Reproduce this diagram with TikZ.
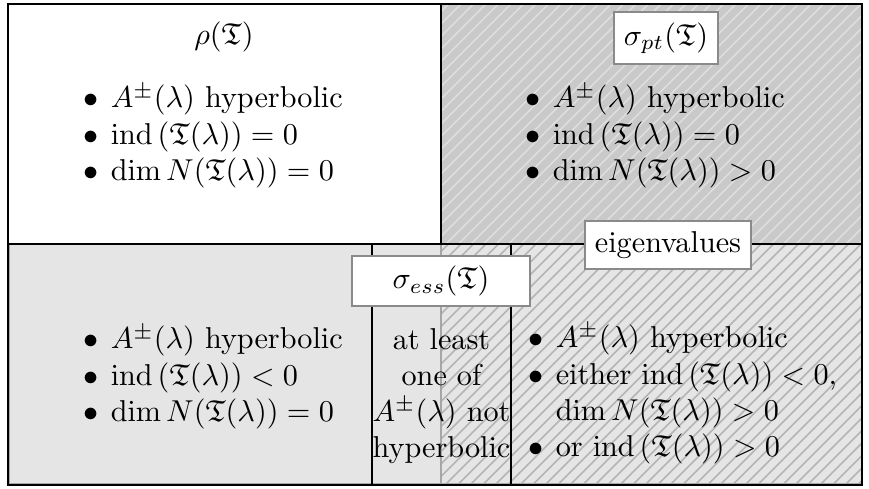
\documentclass[tikz,border=0pt]{standalone}
\usepackage{amsmath,amssymb}
\definecolor{topgray}{HTML}{C9C9C9}
\definecolor{botgray}{HTML}{E5E5E5}
\definecolor{tophatch}{HTML}{DEDEDE}
\definecolor{bothatch}{HTML}{B4B4B4}
\definecolor{labgray}{HTML}{8A8A8A}
\newcommand{\Tf}{\mathfrak{T}}
\newcommand{\ind}{\operatorname{ind}\,}
\newcommand{\bul}{$\bullet$}
\begin{document}
\begin{tikzpicture}[x=0.331pt,y=-0.331pt,
  lab/.style={draw=labgray, fill=white, line width=0.6pt, inner sep=0.3333em},
  lst/.style={inner sep=0pt, anchor=west},
  hatchline/.style={line width=0.55pt},
  frame/.style={line width=0.9pt},
  divider/.style={line width=0.65pt}]
\useasboundingbox (0,0) rectangle (869,489);
% fills
\fill[white] (8,4) rectangle (441,244);
\fill[topgray] (441,4) rectangle (862,244);
\fill[botgray] (8,244) rectangle (862,485);
% hatching
\begin{scope}
  \clip (441,4) rectangle (862,244);
  \foreach \x in {190,202.5,...,870} \draw[hatchline, tophatch] (\x,250) -- ++(260,-260);
\end{scope}
\begin{scope}
  \clip (441,244) rectangle (862,485);
  \foreach \x in {190,202.5,...,870} \draw[hatchline, bothatch] (\x,490) -- ++(260,-260);
\end{scope}
\draw[gray!70, line width=0.4pt] (441,244) -- (441,485);
\draw[gray!70, line width=0.4pt] (9.5,244) -- (9.5,483.5) -- (862,483.5);
% dividers
\draw[divider] (8,244) -- (862,244);
\draw[divider] (441,4) -- (441,244);
\draw[divider] (372,244) -- (372,485);
\draw[divider] (511,244) -- (511,485);
\draw[frame] (8,4) rectangle (862,485);
% texts
\node (rho) at (224,37) {$\rho(\Tf)$};
\node[lst] (l1) at (83,137) {\begin{tabular}{@{}c@{\hspace{4pt}}l@{}}
\bul & $A^{\pm}(\lambda)$ hyperbolic\\
\bul & $\ind(\Tf(\lambda)) = 0$\\
\bul & $\dim N(\Tf(\lambda)) = 0$
\end{tabular}};
\node[lab] (spt) at (666,38) {$\sigma_{pt}(\Tf)$};
\node[lst] (l2) at (525,137) {\begin{tabular}{@{}c@{\hspace{4pt}}l@{}}
\bul & $A^{\pm}(\lambda)$ hyperbolic\\
\bul & $\ind(\Tf(\lambda)) = 0$\\
\bul & $\dim N(\Tf(\lambda)) > 0$
\end{tabular}};
\node[lab] (eig) at (668,245) {eigenvalues};
\node[lab, minimum width=58.9pt] (sess) at (441,281) {$\sigma_{ess}(\Tf)$};
\node[lst] (l3) at (83,378) {\begin{tabular}{@{}c@{\hspace{4pt}}l@{}}
\bul & $A^{\pm}(\lambda)$ hyperbolic\\
\bul & $\ind(\Tf(\lambda)) < 0$\\
\bul & $\dim N(\Tf(\lambda)) = 0$
\end{tabular}};
\node[align=center, inner sep=0pt] (mid) at (441.5,396) {at least\\one of\\$A^{\pm}(\lambda)$ not\\hyperbolic};
\node[lst] (l4) at (528,395) {\begin{tabular}{@{}c@{\hspace{4pt}}l@{}}
\bul & $A^{\pm}(\lambda)$ hyperbolic\\
\bul & either $\ind(\Tf(\lambda)) < 0$,\\
 & $\dim N(\Tf(\lambda)) > 0$\\
\bul & or $\ind(\Tf(\lambda)) > 0$
\end{tabular}};
\end{tikzpicture}
\end{document}
